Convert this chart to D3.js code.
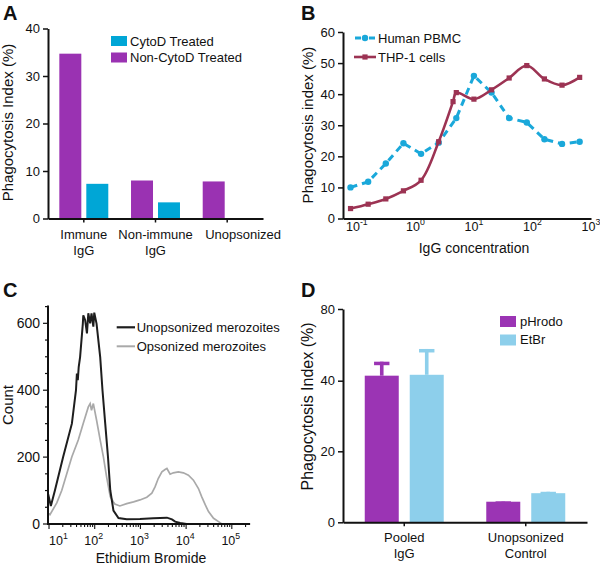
<!DOCTYPE html>
<html><head><meta charset="utf-8">
<script src="https://cdn.jsdelivr.net/npm/d3@7"></script>
<style>
body{margin:0;background:#fff}
svg{font-family:"Liberation Sans",Arial,Helvetica,sans-serif}
</style></head><body>
<svg id="c" width="600" height="568"></svg>
<script>
// ---------- Panel A data ----------
const aCategories = [["Immune","IgG"],["Non-immune","IgG"],["Unopsonized"]];
const aSeriesNames = ["Non-CytoD Treated","CytoD Treated"];
const aNonCytoD = [34.7, 8.0, 7.8];
const aCytoD = [7.3, 3.4, null];
const aYTicks = [0,10,20,30,40];

// ---------- Panel B data ----------
const bPBMCConc = [0.078,0.156,0.3125,0.625,1.25,2.5,5,10,20,40,80,160,320,640];
const bPBMC = [10.0,11.8,17.7,24.2,20.8,24.4,32.3,45.9,40.5,32.3,30.9,25.5,24.0,24.7];
const bTHPConc = [0.078,0.156,0.3125,0.625,1.25,2.5,4.4,5,10,20,40,80,160,320,640];
const bTHP = [3.2,4.6,6.3,8.9,12.3,24.7,37.6,40.5,38.4,41.4,45.2,49.2,44.9,42.9,45.4];
const bYTicks = [0,10,20,30,40,50,60];
const bXTickExps = ["-1","0","1","2","3"];
const bXTickVals = [0.1,1,10,100,1000];

// ---------- Panel C data (log10 intensity, count) ----------
const cUnopsLog = [0.98,1.04,1.13,1.31,1.50,1.59,1.61,1.63,1.65,1.68,1.74,1.75,1.79,1.83,1.86,1.90,1.93,1.97,1.99,2.04,2.12,2.17,2.23,2.29,2.34,2.41,2.52,2.70,2.99,3.28,3.58,3.69,3.76,3.87,4.01,5.40];
const cUnopsCount = [90,54,101,201,300,400,450,430,470,499,599,624,610,570,630,600,630,590,632,599,499,400,300,201,101,40,18,14,15,17,19,14,7,3,0,0];
const cOpsLog = [0.98,1.02,1.17,1.28,1.39,1.50,1.64,1.75,1.86,1.90,1.93,1.97,2.04,2.12,2.19,2.26,2.34,2.41,2.44,2.55,2.70,2.85,2.99,3.14,3.25,3.32,3.39,3.47,3.54,3.58,3.65,3.72,3.83,3.94,4.05,4.16,4.27,4.34,4.42,4.49,4.60,4.71,4.78,5.40];
const cOpsCount = [32,28,63,101,151,201,251,301,350,360,340,360,311,251,201,141,82,66,60,54,61,66,72,80,92,111,136,156,163,166,149,153,156,153,146,131,106,82,57,37,17,7,0,0];
const cYTicks = [0,200,400,600];
const cXTickExps = ["1","2","3","4","5"];
const cXTickVals = [10,100,1000,10000,100000];
const cSeriesNames = ["Unopsonized merozoites","Opsonized merozoites"];

// ---------- Panel D data ----------
const dCategories = [["Pooled","IgG"],["Unopsonized","Control"]];
const dSeriesNames = ["pHrodo","EtBr"];
const dPHrodo = [42.8, 5.8];
const dPHrodoErr = [7.8, 0.1];
const dEtBr = [43.3, 8.2];
const dEtBrErr = [14.4, 0.4];
const dYTicks = [0,20,40,80];

// ---------- colours ----------
const PURPLE = "#9a32b2", CYAN = "#00a6d6";
const B_CYAN = "#1aa8da", B_RED = "#9c3353";
const D_PURPLE = "#9b34b4", D_BLUE = "#8dcfeb";
const INK = "#111";
const FONT = "'Liberation Sans', Arial, Helvetica, sans-serif";

const svg = d3.select("#c");

function styleAxis(g, fs){
  g.attr("font-family", FONT);
  g.select(".domain").attr("stroke", INK).attr("stroke-width", 2);
  g.selectAll(".tick line").attr("stroke", INK).attr("stroke-width", 1.5);
  g.selectAll(".tick text").attr("font-size", fs).attr("fill", INK);
}
function letter(t, x, y){
  svg.append("text").attr("x", x).attr("y", y).attr("font-size", 20)
    .attr("font-weight", "bold").attr("fill", INK).text(t);
}
function yTitle(t, x, cy, fs){
  svg.append("text").attr("transform", `translate(${x},${cy}) rotate(-90)`)
    .attr("text-anchor", "middle").attr("font-size", fs).attr("fill", INK).text(t);
}
function supLabel(x, y, exp, size, anchor){
  const t = svg.append("text").attr("x", x).attr("y", y).attr("font-size", size)
    .attr("text-anchor", anchor).attr("fill", INK);
  t.append("tspan").text("10");
  t.append("tspan").attr("dy", -size * 0.45).attr("font-size", size * 0.7).text(exp);
}
function multiLine(lines, x, y0, lh, fs, anchor){
  lines.forEach((l, i) => svg.append("text").attr("x", x).attr("y", y0 + i * lh)
    .attr("text-anchor", anchor || "middle").attr("font-size", fs).attr("fill", INK).text(l));
}

// ================= Panel A =================
{
  const xA = d3.scaleBand().domain(d3.range(aCategories.length)).range([48, 263])
    .paddingInner(0.317).paddingOuter(0.158);
  const xAi = d3.scaleBand().domain([0, 1]).range([0, xA.bandwidth()]).paddingInner(0.185);
  const yA = d3.scaleLinear().domain([0, 40]).range([218.5, 28.5]);
  const vals = [aNonCytoD, aCytoD], cols = [PURPLE, CYAN];
  aCategories.forEach((c, i) => {
    vals.forEach((arr, s) => {
      if (arr[i] == null) return;
      svg.append("rect").attr("x", xA(i) + xAi(s)).attr("width", xAi.bandwidth())
        .attr("y", yA(arr[i])).attr("height", yA(0) - yA(arr[i])).attr("fill", cols[s]);
    });
    const cx = xA(i) + xA.bandwidth() / 2;
    if (i === aCategories.length - 1) multiLine(c, cx - 22, 239, 15.5, 13, "start");
    else multiLine(c, cx, 239, 15.5, 13);
  });
  const gy = svg.append("g").attr("transform", "translate(48,0)")
    .call(d3.axisLeft(yA).tickValues(aYTicks).tickSize(5).tickSizeOuter(0).tickPadding(3));
  styleAxis(gy, 13);
  const gx = svg.append("g").attr("transform", `translate(0,${yA(0)})`)
    .call(d3.axisBottom(xA).tickFormat("").tickSize(4).tickSizeOuter(0));
  styleAxis(gx, 13);
  const leg = [[aSeriesNames[1], CYAN], [aSeriesNames[0], PURPLE]];
  leg.forEach((l, i) => {
    svg.append("rect").attr("x", 111).attr("y", 36 + i * 16.5).attr("width", 16).attr("height", 10).attr("fill", l[1]);
    svg.append("text").attr("x", 130).attr("y", 45.5 + i * 16.5).attr("font-size", 13).attr("fill", INK).text(l[0]);
  });
  yTitle("Phagocytosis Index (%)", 12.5, 122.5, 15);
  letter("A", 3, 20);
}

// ================= Panel B =================
{
  const xB = d3.scaleLog().domain([0.058, 1000]).range([343, 591]);
  const yB = d3.scaleLinear().domain([0, 60]).range([218.5, 32]);
  const pb = bPBMCConc.map((c, i) => [c, bPBMC[i]]);
  svg.append("path").datum(pb)
    .attr("d", d3.line().x(d => xB(d[0])).y(d => yB(d[1])))
    .attr("fill", "none").attr("stroke", B_CYAN).attr("stroke-width", 3)
    .attr("stroke-dasharray", "7,5");
  svg.selectAll(".pbm").data(pb).enter().append("circle")
    .attr("cx", d => xB(d[0])).attr("cy", d => yB(d[1])).attr("r", 3.2).attr("fill", B_CYAN);
  const th = bTHPConc.map((c, i) => [c, bTHP[i]]);
  svg.append("path").datum(th)
    .attr("d", d3.line().x(d => xB(d[0])).y(d => yB(d[1])).curve(d3.curveCatmullRom.alpha(0.5)))
    .attr("fill", "none").attr("stroke", B_RED).attr("stroke-width", 2.6);
  svg.selectAll(".thm").data(th).enter().append("rect")
    .attr("x", d => xB(d[0]) - 2.6).attr("y", d => yB(d[1]) - 2.6)
    .attr("width", 5.2).attr("height", 5.2).attr("fill", B_RED);
  const gy = svg.append("g").attr("transform", "translate(343,0)")
    .call(d3.axisLeft(yB).tickValues(bYTicks).tickSize(5).tickSizeOuter(0).tickPadding(3));
  styleAxis(gy, 13);
  const gx = svg.append("g").attr("transform", `translate(0,${yB(0)})`)
    .call(d3.axisBottom(xB).tickValues([]).tickSizeOuter(0));
  styleAxis(gx, 13);
  bXTickVals.forEach((v, i) => supLabel(xB(v), 230.5, bXTickExps[i], 12.5, "middle"));
  svg.append("text").attr("x", 474).attr("y", 253).attr("text-anchor", "middle")
    .attr("font-size", 14).attr("fill", INK).text("IgG concentration");
  svg.append("line").attr("x1", 355).attr("x2", 361).attr("y1", 38).attr("y2", 38).attr("stroke", B_CYAN).attr("stroke-width", 3);
  svg.append("line").attr("x1", 369).attr("x2", 375).attr("y1", 38).attr("y2", 38).attr("stroke", B_CYAN).attr("stroke-width", 3);
  svg.append("circle").attr("cx", 365).attr("cy", 38).attr("r", 3.2).attr("fill", B_CYAN);
  svg.append("text").attr("x", 378).attr("y", 43).attr("font-size", 13).attr("fill", INK).text("Human PBMC");
  svg.append("line").attr("x1", 354).attr("x2", 376).attr("y1", 57).attr("y2", 57).attr("stroke", B_RED).attr("stroke-width", 2.6);
  svg.append("rect").attr("x", 362.4).attr("y", 54.4).attr("width", 5.2).attr("height", 5.2).attr("fill", B_RED);
  svg.append("text").attr("x", 378).attr("y", 62).attr("font-size", 13).attr("fill", INK).text("THP-1 cells");
  yTitle("Phagocytosis index (%)", 312.5, 125, 15);
  letter("B", 301, 19.5);
}

// ================= Panel C =================
{
  const xC = d3.scaleLog().domain([9.5, 250000]).range([48, 250]);
  const yC = d3.scaleLinear().domain([0, 650]).range([524, 306.6]);
  const line = d3.line().x(d => xC(Math.pow(10, d[0]))).y(d => yC(d[1]));
  const ops = cOpsLog.map((l, i) => [l, cOpsCount[i]]);
  const un = cUnopsLog.map((l, i) => [l, cUnopsCount[i]]);
  svg.append("path").datum(ops).attr("d", line).attr("fill", "none")
    .attr("stroke", "#a9a9a9").attr("stroke-width", 1.7);
  svg.append("path").datum(un).attr("d", line).attr("fill", "none")
    .attr("stroke", "#1e1e1e").attr("stroke-width", 2);
  const ax = svg.append("g");
  ax.append("line").attr("x1", 48).attr("x2", 48).attr("y1", 305.5).attr("y2", 525).attr("stroke", INK).attr("stroke-width", 2);
  ax.append("line").attr("x1", 47).attr("x2", 250).attr("y1", 524).attr("y2", 524).attr("stroke", INK).attr("stroke-width", 2);
  d3.range(0, 651, 50).forEach(v => {
    const major = cYTicks.includes(v);
    ax.append("line").attr("x1", 48 - (major ? 5 : 3)).attr("x2", 48).attr("y1", yC(v)).attr("y2", yC(v))
      .attr("stroke", INK).attr("stroke-width", 1.2);
  });
  cYTicks.forEach(v => svg.append("text").attr("x", 40).attr("y", yC(v) + 5).attr("text-anchor", "end")
    .attr("font-size", 14).attr("fill", INK).text(v));
  xC.ticks().forEach(v => {
    if (v < xC.domain()[0] || v > xC.domain()[1]) return;
    const major = cXTickVals.includes(v);
    ax.append("line").attr("x1", xC(v)).attr("x2", xC(v)).attr("y1", 524).attr("y2", 524 + (major ? 5 : 3))
      .attr("stroke", INK).attr("stroke-width", 1.1);
  });
  cXTickVals.forEach((v, i) => supLabel(i === 0 ? 49 : xC(v) - 1, 545, cXTickExps[i], 12.5, i === 0 ? "start" : "middle"));
  svg.append("text").attr("x", 151).attr("y", 563).attr("text-anchor", "middle")
    .attr("font-size", 14).attr("fill", INK).text("Ethidium Bromide");
  svg.append("line").attr("x1", 116.7).attr("x2", 135).attr("y1", 327.3).attr("y2", 327.3).attr("stroke", "#1e1e1e").attr("stroke-width", 2.2);
  svg.append("text").attr("x", 136.7).attr("y", 331.5).attr("font-size", 13).attr("fill", INK).text(cSeriesNames[0]);
  svg.append("line").attr("x1", 116.7).attr("x2", 135).attr("y1", 346.3).attr("y2", 346.3).attr("stroke", "#a9a9a9").attr("stroke-width", 2);
  svg.append("text").attr("x", 136.7).attr("y", 350.5).attr("font-size", 13).attr("fill", INK).text(cSeriesNames[1]);
  yTitle("Count", 13.3, 405, 15);
  letter("C", 3, 297);
}

// ================= Panel D =================
{
  const xD = d3.scaleBand().domain(d3.range(dCategories.length)).range([343, 587])
    .paddingInner(0.35).paddingOuter(0.179);
  const xDi = d3.scaleBand().domain([0, 1]).range([0, xD.bandwidth()]).paddingInner(0.244);
  const yD = d3.scaleLinear().domain([0, 20, 40, 80]).range([522.3, 451.3, 380.7, 309]);
  const vals = [dPHrodo, dEtBr], errs = [dPHrodoErr, dEtBrErr], cols = [D_PURPLE, D_BLUE];
  dCategories.forEach((c, i) => {
    vals.forEach((arr, s) => {
      const x0 = xD(i) + xDi(s), w = xDi.bandwidth(), cx = x0 + w / 2;
      const top = arr[i] + errs[s][i];
      svg.append("rect").attr("x", cx - 1.8).attr("width", 3.6)
        .attr("y", yD(top)).attr("height", yD(arr[i]) - yD(top)).attr("fill", cols[s]);
      svg.append("rect").attr("x", cx - 7.7).attr("width", 15.4)
        .attr("y", yD(top)).attr("height", 3.5).attr("fill", cols[s]);
      svg.append("rect").attr("x", x0).attr("width", w)
        .attr("y", yD(arr[i])).attr("height", yD(0) - yD(arr[i])).attr("fill", cols[s]);
    });
    multiLine(c, xD(i) + xD.bandwidth() / 2, 542, 16, 13);
  });
  const gy = svg.append("g").attr("transform", "translate(343,0)")
    .call(d3.axisLeft(yD).tickValues(dYTicks).tickSize(5).tickSizeOuter(0).tickPadding(3));
  styleAxis(gy, 13);
  const gx = svg.append("g").attr("transform", `translate(0,${yD(0)})`)
    .call(d3.axisBottom(xD).tickFormat("").tickSize(4).tickSizeOuter(0));
  styleAxis(gx, 13);
  dSeriesNames.forEach((n, i) => {
    svg.append("rect").attr("x", 500).attr("y", 316 + i * 18.5).attr("width", 16).attr("height", 11).attr("fill", cols[i]);
    svg.append("text").attr("x", 520).attr("y", 325.5 + i * 18.5).attr("font-size", 13).attr("fill", INK).text(n);
  });
  yTitle("Phagocytosis Index (%)", 313, 406.5, 16);
  letter("D", 301, 297);
}
</script>
</body></html>
